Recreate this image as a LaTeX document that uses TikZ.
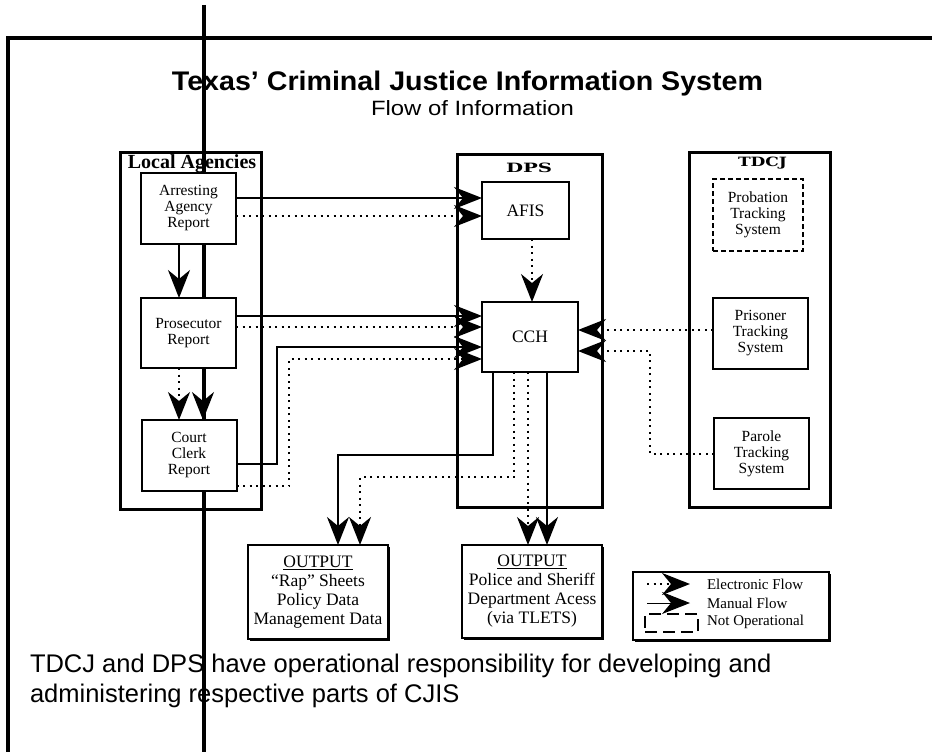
\documentclass[tikz,border=0pt]{standalone}
\usepackage{fontspec}
\usepackage{graphicx}
\setmainfont{Liberation Serif}
\newfontfamily\arialf{Liberation Sans}
\newfontfamily\heavyserif{DejaVu Serif}
\usetikzlibrary{arrows.meta,shadows}
\begin{document}
\begin{tikzpicture}[x=1pt,y=-1pt,
  every node/.style={inner sep=0pt,outer sep=0pt},
  grp/.style={draw,line width=3pt},
  box/.style={draw,line width=2pt,fill=white,align=center,font=\fontsize{15.5}{16}\selectfont},
  bigbox/.style={box,font=\fontsize{17.5}{17.5}\selectfont},
  outbox/.style={draw,line width=2pt,fill=white,align=center,font=\fontsize{17.5}{19}\selectfont,
    drop shadow={shadow xshift=1.5pt,shadow yshift=-1.5pt,fill=black,opacity=1}},
  bigtip/.style={-{Stealth[length=28pt,width=22pt,inset=9pt]}},
  man/.style={line width=2pt,bigtip},
  ele/.style={line width=2pt,dash pattern=on 2pt off 4.5pt,bigtip},
  legtext/.style={anchor=west,font=\fontsize{15}{15}\selectfont},
]
\useasboundingbox (0,0) rectangle (932,752);
% page frame and stray vertical rule
\draw[line width=4.5pt] (8,756) -- (8,38) -- (936,38);
\draw[line width=3.5pt] (204,5) -- (204,756);
% titles
\node[anchor=base] (title) at (467.5,91) {\resizebox{591pt}{19.5pt}{\arialf\bfseries Texas’ Criminal Justice Information System}};
\node[anchor=base] (sub) at (472.5,115) {\resizebox{203pt}{15pt}{\arialf Flow of Information}};
% group boxes
\node[grp,minimum width=141pt,minimum height=357pt] (local) at (190.5,330.5) {};
\node[font=\fontsize{20}{20}\selectfont\bfseries] (localt) at (192,164) {Local Agencies};
\node[grp,minimum width=145pt,minimum height=353pt] (dps) at (529.5,330.5) {};
\node (dpst) at (529,168) {\resizebox{46pt}{9.5pt}{\heavyserif\bfseries DPS}};
\node[grp,minimum width=141pt,minimum height=355pt] (tdcj) at (759.5,329.5) {};
\node (tdcjt) at (762.5,163) {\resizebox{49pt}{9.5pt}{\heavyserif\bfseries TDCJ}};
% boxes
\node[box,minimum width=95pt,minimum height=71pt] (arr) at (188.5,208.5) {Arresting\\Agency\\Report};
\node[box,minimum width=95pt,minimum height=70pt] (pros) at (188.5,333) {Prosecutor\\Report};
\node[box,minimum width=95pt,minimum height=71pt] (court) at (189,455.5) {Court\\Clerk\\Report};
\node[bigbox,minimum width=87pt,minimum height=57pt] (afis) at (525.5,210.5) {AFIS};
\node[bigbox,minimum width=96pt,minimum height=70pt] (cch) at (530,337) {CCH};
\node[box,dash pattern=on 5pt off 3pt,minimum width=90pt,minimum height=72pt] (prob) at (758,215) {Probation\\Tracking\\System};
\node[box,minimum width=95pt,minimum height=71pt] (pris) at (760.5,333.5) {Prisoner\\Tracking\\System};
\node[box,minimum width=95pt,minimum height=71pt] (parole) at (761.5,453.5) {Parole\\Tracking\\System};
\node[outbox,minimum width=140pt,minimum height=94pt] (out1) at (318,592) {\underline{OUTPUT}\\“Rap” Sheets\\Policy Data\\Management Data};
\node[outbox,minimum width=140pt,minimum height=93pt] (out2) at (532,591.5) {\underline{OUTPUT}\\Police and Sheriff\\Department Acess\\(via TLETS)};
% connectors inside local agencies
\draw[man] (179,0 |- arr.south) -- (179,0 |- pros.north);
\draw[ele] (179,0 |- pros.south) -- (179,0 |- court.north);
\draw[man] (203,0 |- pros.south) -- (203,0 |- court.north);
% to AFIS
\draw[man] (arr.east |- 0,198) -- (afis.west |- 0,198);
\draw[ele] (arr.east |- 0,216) -- (afis.west |- 0,216);
\draw[ele] (532,0 |- afis.south) -- (532,0 |- cch.north);
% to CCH from local
\draw[man] (pros.east |- 0,316) -- (cch.west |- 0,316);
\draw[ele] (pros.east |- 0,327) -- (cch.west |- 0,327);
\draw[man] (court.east |- 0,464) -| (277,347) -- (cch.west |- 0,347);
\draw[ele] (court.east |- 0,486) -| (289,359) -- (cch.west |- 0,359);
% to CCH from TDCJ
\draw[ele] (pris.west |- 0,330) -- (cch.east |- 0,330);
\draw[ele] (parole.west |- 0,454) -| (650,351) -- (cch.east |- 0,351);
% outputs
\draw[man] (493,0 |- cch.south) |- (338,455) -- (338,0 |- out1.north);
\draw[ele] (514,0 |- cch.south) |- (360,477) -- (360,0 |- out1.north);
\draw[ele] (528,0 |- cch.south) -- (528,0 |- out2.north);
\draw[man] (547,0 |- cch.south) -- (547,0 |- out2.north);
% legend
\node[outbox,minimum width=196pt,minimum height=68pt] (legend) at (731,606) {};
\coordinate (le1) at (647,584);
\coordinate (le2) at (690,584);
\coordinate (lm1) at (647,603);
\coordinate (lm2) at (690,603);
\draw[ele] (le1) -- (le2);
\draw[line width=1pt,bigtip] (lm1) -- (lm2);
\node[draw,line width=2.5pt,dash pattern=on 12pt off 6pt,minimum width=53pt,minimum height=18pt] (lno) at (671.5,623) {};
\node[legtext] (lt1) at (707,584) {Electronic Flow};
\node[legtext] (lt2) at (707,603) {Manual Flow};
\node[legtext] (lt3) at (707,622) {Not Operational};
% note
\node[anchor=base west,font=\arialf\fontsize{25.5}{30}\selectfont] (note1) at (30,672) {TDCJ and DPS have operational responsibility for developing and};
\node[anchor=base west,font=\arialf\fontsize{25.5}{30}\selectfont] (note2) at (30,702) {administering respective parts of CJIS};
\end{tikzpicture}
\end{document}
